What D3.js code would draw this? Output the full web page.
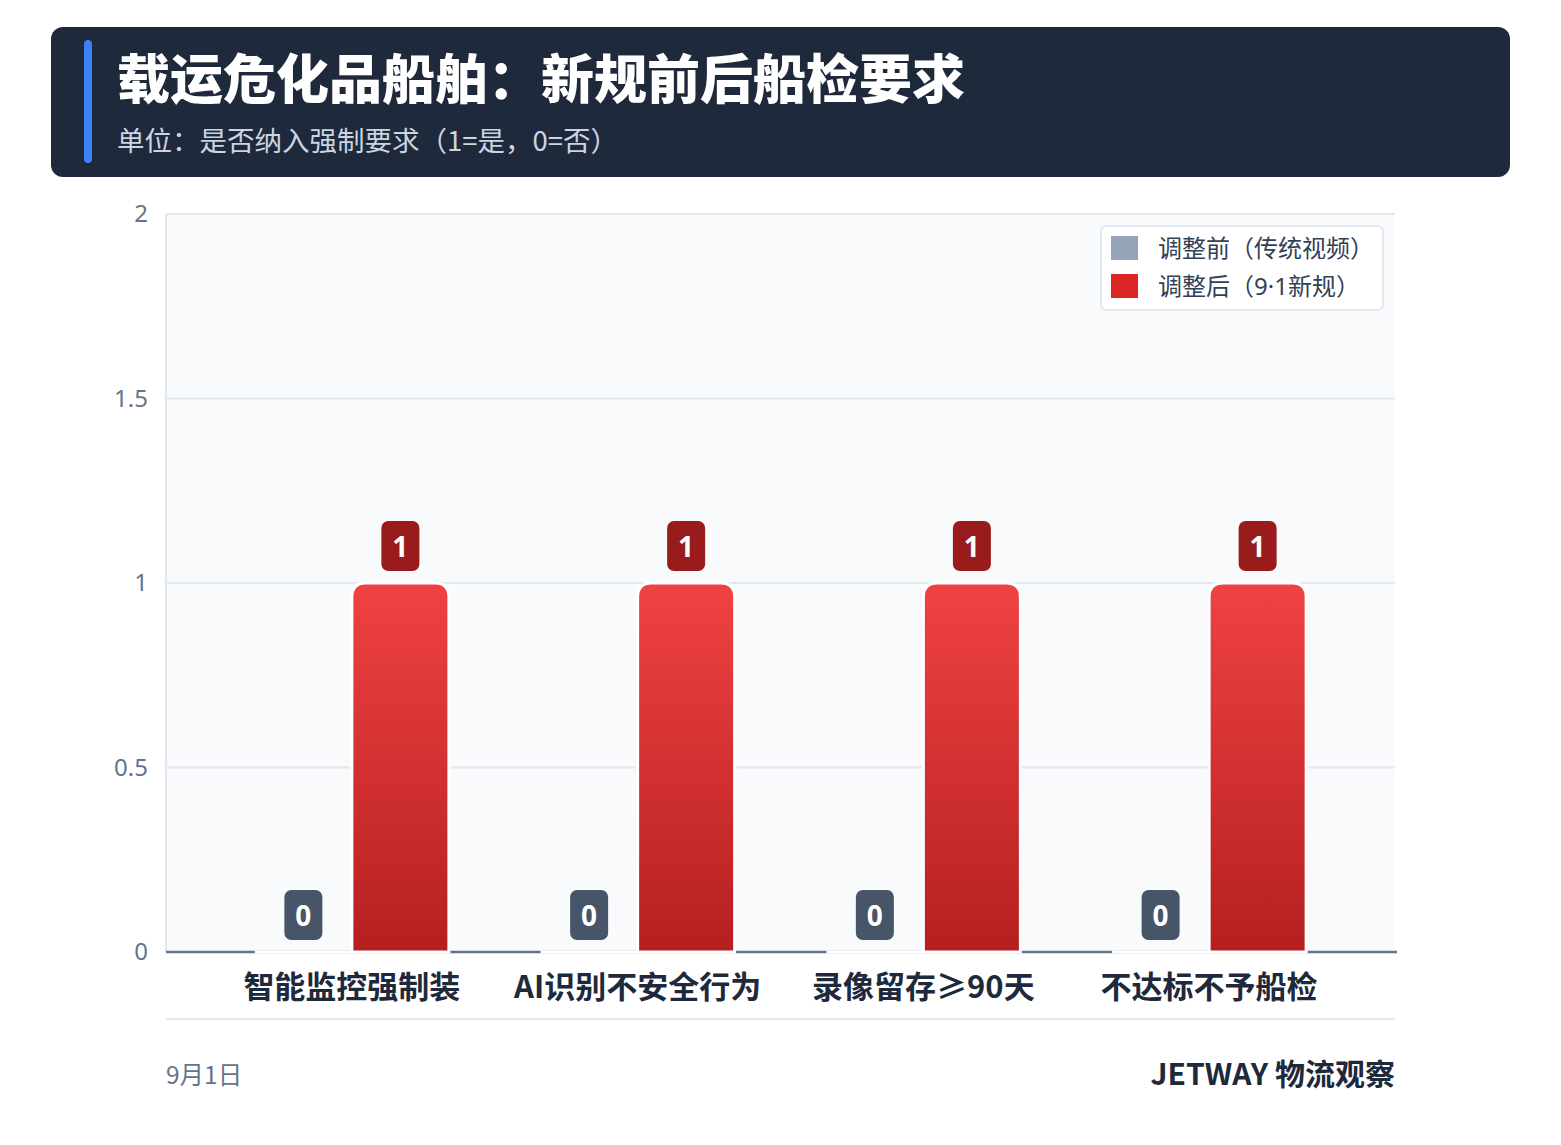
<!DOCTYPE html>
<html>
<head>
<meta charset="utf-8">
<script src="https://cdn.jsdelivr.net/npm/d3@7"></script>
<style>
  body { margin: 0; background: #ffffff; }
  svg { display: block; font-family: "Noto Sans CJK SC", "Noto Sans", sans-serif; }
</style>
</head>
<body>
<svg id="chart" width="1561" height="1145"></svg>
<script>
// data
const categories = ['智能监控强制装', 'AI识别不安全行为', '录像留存≥90天', '不达标不予船检'];
const seriesNames = ['调整前（传统视频）', '调整后（9·1新规）'];
const beforeValues = [0, 0, 0, 0];
const afterValues = [1, 1, 1, 1];
const yTicks = [0, 0.5, 1, 1.5, 2];

const width = 1561, height = 1145;
const margin = { left: 166, right: 166, top: 214, bottom: 193 };

const svg = d3.select('#chart');

// gradient for red bars
const defs = svg.append('defs');
const grad = defs.append('linearGradient')
  .attr('id', 'redGrad')
  .attr('x1', 0).attr('y1', 0).attr('x2', 0).attr('y2', 1);
grad.append('stop').attr('offset', '0%').attr('stop-color', '#f04242');
grad.append('stop').attr('offset', '100%').attr('stop-color', '#b51f20');

// header
svg.append('rect')
  .attr('x', 51).attr('y', 27)
  .attr('width', 1459).attr('height', 150)
  .attr('rx', 12)
  .attr('fill', '#1e293b');
svg.append('rect')
  .attr('x', 84).attr('y', 40)
  .attr('width', 8).attr('height', 123)
  .attr('rx', 4)
  .attr('fill', '#3b82f6');
svg.append('text')
  .attr('x', 117).attr('y', 99)
  .attr('font-size', 53).attr('font-weight', 900)
  .attr('fill', '#ffffff')
  .text('载运危化品船舶：新规前后船检要求');
svg.append('text')
  .attr('x', 117).attr('y', 151)
  .attr('font-size', 27.5)
  .attr('fill', '#cbd5e1')
  .text('单位：是否纳入强制要求（1=是，0=否）');

// scales
const x0 = d3.scaleBand()
  .domain(categories)
  .range([margin.left, width - margin.right])
  .paddingInner(0.321)
  .paddingOuter(0.311);
const x1 = d3.scaleBand()
  .domain([0, 1])
  .range([0, x0.bandwidth()]);
const y = d3.scaleLinear()
  .domain([0, 2])
  .range([height - margin.bottom, margin.top]);

const plotLeft = margin.left, plotRight = width - margin.right;

// plot background
svg.append('rect')
  .attr('x', plotLeft).attr('y', y(2))
  .attr('width', plotRight - plotLeft).attr('height', y(0) - y(2))
  .attr('fill', '#f8fafc');

// gridlines
svg.append('g')
  .selectAll('line')
  .data(yTicks.filter(d => d > 0))
  .join('line')
  .attr('x1', plotLeft).attr('x2', plotRight)
  .attr('y1', d => y(d)).attr('y2', d => y(d))
  .attr('stroke', '#e2e8f0').attr('stroke-width', 2);
svg.append('line')
  .attr('x1', plotLeft).attr('x2', plotLeft)
  .attr('y1', y(2)).attr('y2', y(0))
  .attr('stroke', '#e2e8f0').attr('stroke-width', 2);

// y axis labels
const yAxis = d3.axisLeft(y).tickValues(yTicks).tickSize(0).tickPadding(18).tickFormat(d3.format('~g'));
const yg = svg.append('g')
  .attr('transform', `translate(${plotLeft},0)`)
  .call(yAxis);
yg.select('.domain').remove();
yg.selectAll('text')
  .attr('font-size', 24)
  .attr('fill', '#64748b')
  .attr('font-family', '"Noto Sans", sans-serif');

// baseline
svg.append('line')
  .attr('x1', plotLeft).attr('x2', plotRight + 2)
  .attr('y1', y(0)).attr('y2', y(0))
  .attr('stroke', '#64748b').attr('stroke-width', 2.5);

// rounded-top bar path
function topRoundedBar(x, yTop, w, h, r) {
  r = Math.min(r, h, w / 2);
  if (h <= 0) return `M${x},${yTop}h${w}`;
  return `M${x},${yTop + h}V${yTop + r}Q${x},${yTop} ${x + r},${yTop}H${x + w - r}Q${x + w},${yTop} ${x + w},${yTop + r}V${yTop + h}Z`;
}

const groups = svg.append('g')
  .selectAll('g')
  .data(categories.map((c, i) => ({ cat: c, vals: [beforeValues[i], afterValues[i]] })))
  .join('g')
  .attr('transform', d => `translate(${x0(d.cat)},0)`);

const barColors = ['#94a3b8', 'url(#redGrad)'];
const badgeColors = ['#475569', '#991b1b'];

groups.selectAll('path')
  .data(d => d.vals.map((v, k) => ({ v, k })))
  .join('path')
  .attr('d', d => topRoundedBar(x1(d.k), y(d.v), x1.bandwidth(), y(0) - y(d.v), 14))
  .attr('fill', d => barColors[d.k])
  .attr('stroke', '#ffffff')
  .attr('stroke-width', 3);

// value badges
const badges = groups.selectAll('g.badge')
  .data(d => d.vals.map((v, k) => ({ v, k })))
  .join('g')
  .attr('class', 'badge')
  .attr('transform', d => `translate(${x1(d.k) + x1.bandwidth() / 2},${y(d.v) - 12})`);
badges.append('rect')
  .attr('x', -19).attr('y', -50)
  .attr('width', 38).attr('height', 50)
  .attr('rx', 7)
  .attr('fill', d => badgeColors[d.k]);
badges.append('text')
  .attr('y', -14)
  .attr('text-anchor', 'middle')
  .attr('font-size', 28).attr('font-weight', 700)
  .attr('font-family', '"Noto Sans", sans-serif')
  .attr('fill', '#ffffff')
  .text(d => d.v);

// category labels
svg.append('g')
  .selectAll('text')
  .data(categories)
  .join('text')
  .attr('x', d => x0(d) + x0.bandwidth() / 2)
  .attr('y', y(0) + 46)
  .attr('text-anchor', 'middle')
  .attr('font-size', 31).attr('font-weight', 700)
  .attr('fill', '#1e293b')
  .text(d => d);

// legend
const legend = svg.append('g').attr('transform', 'translate(1101,226)');
legend.append('rect')
  .attr('width', 282).attr('height', 84)
  .attr('rx', 5)
  .attr('fill', '#ffffff')
  .attr('stroke', '#e2e8f0').attr('stroke-width', 2);
const legendColors = ['#94a3b8', '#dc2626'];
const li = legend.selectAll('g')
  .data(seriesNames)
  .join('g')
  .attr('transform', (d, i) => `translate(10,${10 + i * 38})`);
li.append('rect')
  .attr('width', 27).attr('height', 24)
  .attr('fill', (d, i) => legendColors[i]);
const lt = li.append('text')
  .attr('x', 47).attr('y', 21)
  .attr('font-size', 24)
  .attr('fill', '#334155');
// split so the middle dot uses the narrow Latin glyph
lt.each(function (d) {
  const t = d3.select(this);
  d.split(/([0-9·]+)/).filter(s => s).forEach(s => {
    const span = t.append('tspan').text(s);
    if (/^[0-9·]+$/.test(s)) span.attr('font-family', '"Noto Sans", sans-serif');
  });
});

// footer
svg.append('line')
  .attr('x1', plotLeft).attr('x2', plotRight)
  .attr('y1', 1019).attr('y2', 1019)
  .attr('stroke', '#e2e8f0').attr('stroke-width', 2);
svg.append('text')
  .attr('x', plotLeft).attr('y', 1084)
  .attr('font-size', 24.5)
  .attr('fill', '#64748b')
  .text('9月1日');
svg.append('text')
  .attr('x', plotRight).attr('y', 1085)
  .attr('text-anchor', 'end')
  .attr('font-size', 30).attr('font-weight', 700)
  .attr('fill', '#1e293b')
  .text('JETWAY 物流观察');
</script>
</body>
</html>
